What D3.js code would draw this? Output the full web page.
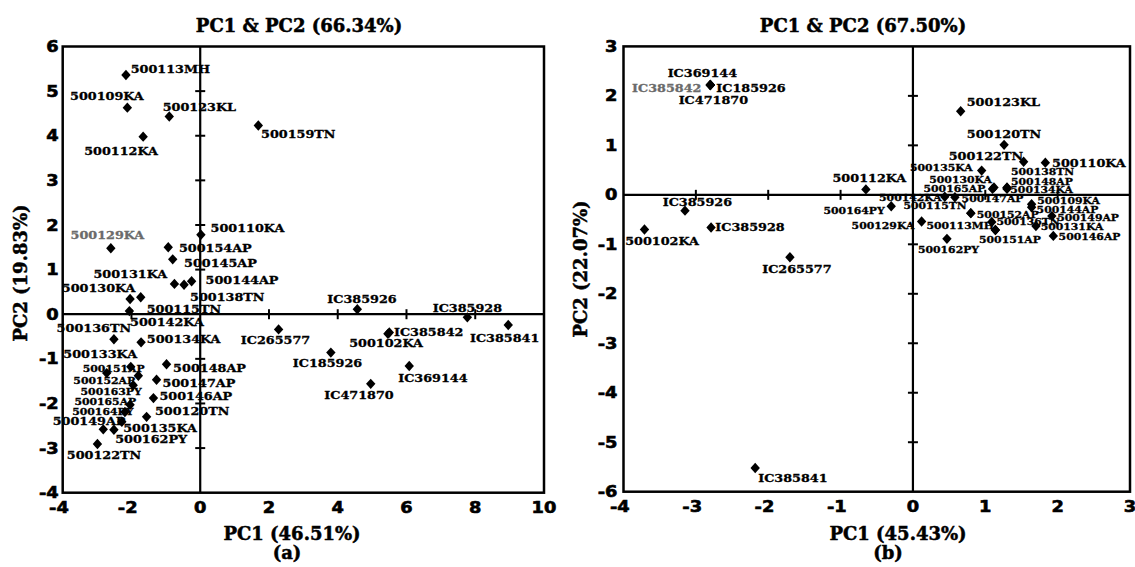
<!DOCTYPE html>
<html><head><meta charset="utf-8">
<script src="https://cdn.jsdelivr.net/npm/d3@7/dist/d3.min.js"></script>
<style>body{margin:0;background:#fff}svg{display:block}</style>
</head><body>
<svg id="c" width="1135" height="567"></svg>
<script>
// ---------- Panel (a) data ----------
const titleA = "PC1 & PC2 (66.34%)";
const xTitleA = "PC1 (46.51%)";
const yTitleA = "PC2 (19.83%)";
const xTicksA = [-4, -2, 0, 2, 4, 6, 8, 10];
const yTicksA = [6, 5, 4, 3, 2, 1, 0, -1, -2, -3, -4];
const innerXTicksA = [-2, 2, 4, 6, 8];
const innerYTicksA = [5, 4, 3, 2, 1, -1, -2, -3];
const namesA = ["500113MH","500109KA","500123KL","500112KA","500159TN","500129KA","500110KA","500154AP","500145AP","500131KA",
  "500138TN","500144AP","500130KA","500115TN","500142KA","500136TN","500134KA","500133KA","500151AP","500148AP",
  "500152AP","500147AP","500163PY","500146AP","500165AP","500120TN","500164PY","500149AP","500135KA","500162PY",
  "500122TN","IC385926","IC385928","IC385841","IC385842","500102KA","IC265577","IC185926","IC369144","IC471870"];
const pc1A = [-2.16,-2.12,-0.90,-1.66,1.69,-2.60,0.02,-0.93,-0.80,-0.75,
  -0.47,-0.25,-2.04,-1.73,-2.06,-2.51,-1.72,-2.72,-2.02,-0.98,
  -1.80,-1.27,-1.95,-1.36,-2.04,-1.56,-2.19,-2.82,-2.51,-2.28,
  -2.99,4.57,7.77,8.96,5.50,5.46,2.28,3.80,6.08,4.96];
const pc2A = [5.36,4.63,4.43,3.98,4.23,1.48,1.78,1.50,1.23,0.68,
  0.66,0.74,0.34,0.38,0.07,-0.56,-0.63,-1.32,-1.18,-1.12,
  -1.38,-1.47,-1.59,-1.88,-2.03,-2.30,-2.19,-2.58,-2.59,-2.41,
  -2.91,0.11,-0.07,-0.24,-0.41,-0.44,-0.34,-0.86,-1.16,-1.56];

// ---------- Panel (b) data ----------
const titleB = "PC1 & PC2 (67.50%)";
const xTitleB = "PC1 (45.43%)";
const yTitleB = "PC2 (22.07%)";
const xTicksB = [-4, -3, -2, -1, 0, 1, 2, 3];
const yTicksB = [3, 2, 1, 0, -1, -2, -3, -4, -5, -6];
const innerXTicksB = [-3, -2, -1, 1, 2];
const innerYTicksB = [2, 1, -1, -2, -3, -4, -5];
const namesB = ["IC369144","IC385842","IC185926","IC471870","IC385926","500102KA","IC385928","IC265577","500112KA","IC385841",
  "500164PY","500129KA","500162PY","500123KL","500120TN","500122TN","500110KA","500135KA","500130KA","500165AP",
  "500138TN","500148AP","500134KA","500142KA","500147AP","500115TN","500152AP","500113MH","500151AP","500136TN",
  "500109KA","500144AP","500149AP","500131KA","500146AP"];
const pc1B = [-2.80,-2.80,-2.80,-2.80,-3.15,-3.71,-2.79,-1.70,-0.65,-2.18,
  -0.30,0.12,0.47,0.66,1.26,1.53,1.83,0.95,1.12,1.10,
  1.30,1.30,1.30,0.44,0.58,0.80,0.80,1.14,1.14,1.09,
  1.64,1.64,1.92,1.70,1.94];
const pc2B = [2.22,2.22,2.22,2.22,-0.32,-0.70,-0.66,-1.26,0.11,-5.52,
  -0.23,-0.54,-0.89,1.69,1.01,0.67,0.65,0.49,0.15,0.12,
  0.15,0.14,0.12,-0.04,-0.05,-0.37,-0.37,-0.71,-0.71,-0.55,
  -0.19,-0.25,-0.43,-0.63,-0.83];

// ---------- Layout (label placement, not data) ----------
const labelOffA = [[4.7,-2],[-57.3,-7.7],[-6.6,-5.7],[-59,18.3],[2.7,12.7],[-40.3,-9.3],[9.7,-2.3],[10.7,4.4],[11.3,7.4],[-81,-6],
  [6,16.7],[14,3],[-68.3,-7.3],[6,15.4],[0.7,15],[-57.3,-7.3],[5.7,1],[-43.4,-15],[-48,5],[6.6,7.7],
  [-65,8],[6,6.7],[-52.6,10],[6,1.7],[-55.7,0],[8.3,-1.7],[-52.7,3],[-50.6,-4.3],[9.3,2.7],[-6.7,21.6],
  [-30.6,15.3],[-30,-6.6],[-34.6,-5.6],[-38.3,16.7],[4.7,3.3],[-38.7,13.3],[-37.8,14.5],[-38,14.6],[-11,15.7],[-46.4,15.3]];
const smallA = new Set(["500151AP","500152AP","500163PY","500165AP","500164PY"]);
const grayA = new Set(["500129KA"]);
const labelOffB = [[-42.7,-7.7],[-78.3,6.7],[6,6.7],[-31.7,19],[-22.3,-4.7],[-19.3,15.7],[4.3,3.4],[-27.7,16],[-33.4,-7.6],[3,13.7],
  [-67.7,7.3],[-70,7.6],[-29,14.3],[6,-5],[-37.3,-6.7],[-75,-1.7],[6.7,4],[-71.7,0],[-64.7,-4],[-69,2.7],
  [4,-12.3],[4,-3.3],[3.3,4.4],[-65.7,4],[6.7,4.7],[-67.4,-4.3],[6,5],[-69,-0.7],[-16.4,13.3],[4.7,3],
  [5.6,0],[5,5.6],[5.3,4.7],[4.7,4],[5.3,4]];
const normalB = new Set(["IC369144","IC385842","IC185926","IC471870","IC385926","500102KA","IC385928","IC265577","500112KA","IC385841",
  "500123KL","500120TN","500122TN","500110KA"]);
const grayB = new Set(["IC385842"]);

const SERIF = "'DejaVu Serif', serif";
const SANS = "'DejaVu Sans', sans-serif";
const svg = d3.select('#c');

function stext(g, x, y, s, o) {
  let tr = `translate(${x},${y})`;
  if (o.rot) tr += ` rotate(${o.rot})`;
  if (o.sx && o.sx !== 1) tr += ` scale(${o.sx},1)`;
  const fill = o.fill || '#000';
  const t = g.append('text')
    .attr('transform', tr)
    .attr('text-anchor', o.anchor || 'start')
    .attr('font-family', o.family)
    .attr('font-weight', 'bold')
    .attr('font-size', o.size)
    .attr('fill', fill)
    .attr('stroke', fill)
    .attr('stroke-width', o.sw || 0.35)
    .text(s);
  if (o.dy) t.attr('dy', o.dy);
  return t;
}

function panel(cfg) {
  const x = d3.scaleLinear().domain(cfg.xDomain).range(cfg.xRange);
  const y = d3.scaleLinear().domain(cfg.yDomain).range(cfg.yRange);
  const g = svg.append('g');
  const x0 = x(cfg.xDomain[0]), x1 = x(cfg.xDomain[1]);
  const yb = y(cfg.yDomain[0]), yt = y(cfg.yDomain[1]);

  // inner axes
  g.append('line').attr('x1', x(0)).attr('x2', x(0)).attr('y1', yt).attr('y2', yb)
    .attr('stroke', '#000').attr('stroke-width', 2.2);
  g.append('line').attr('x1', x0).attr('x2', x1).attr('y1', y(0)).attr('y2', y(0))
    .attr('stroke', '#000').attr('stroke-width', 2.2);
  g.selectAll('.tx').data(cfg.innerX).join('line')
    .attr('x1', d => x(d)).attr('x2', d => x(d)).attr('y1', y(0) - 5).attr('y2', y(0) + 5)
    .attr('stroke', '#000').attr('stroke-width', 2);
  g.selectAll('.ty').data(cfg.innerY).join('line')
    .attr('y1', d => y(d)).attr('y2', d => y(d)).attr('x1', x(0) - 5).attr('x2', x(0) + 5)
    .attr('stroke', '#000').attr('stroke-width', 2);

  // frame
  g.append('rect').attr('x', x0).attr('y', yt).attr('width', x1 - x0).attr('height', yb - yt)
    .attr('fill', 'none').attr('stroke', '#000').attr('stroke-width', 2.5);

  // markers
  const pts = cfg.names.map((n, i) => ({ n, a: cfg.pc1[i], b: cfg.pc2[i], off: cfg.off[i] }));
  g.selectAll('path.m').data(pts).join('path')
    .attr('class', 'm')
    .attr('d', 'M0,-5.2L4.7,0L0,5.2L-4.7,0Z')
    .attr('transform', d => `translate(${x(d.a)},${y(d.b)})`)
    .attr('fill', '#000');

  // labels
  pts.forEach(d => {
    const small = cfg.isSmall(d.n);
    stext(g, x(d.a) + d.off[0], y(d.b) + d.off[1], d.n, {
      family: SERIF, size: small ? 9.7 : 11.4, sx: 1.12, sw: 0.3,
      fill: cfg.gray.has(d.n) ? '#6b6b6b' : '#000'
    });
  });

  // tick labels
  const fs = 15.5, sxT = 1.15;
  const adv = fs * 0.696 * sxT;
  cfg.xTicks.forEach(t => {
    const digits = String(Math.abs(t)).length;
    stext(g, x(t) + digits * adv / 2, yb + 20, String(t),
      { family: SANS, size: fs, sx: sxT, anchor: 'end', sw: 0.6 });
  });
  cfg.yTicks.forEach(t => {
    stext(g, x0 - cfg.yTickGap, y(t), String(t), { family: SANS, size: fs, sx: sxT, anchor: 'end', dy: '0.36em', sw: 0.6 });
  });

  // titles
  stext(g, cfg.titleX, 31.5, cfg.title, { family: SERIF, size: 18, anchor: 'middle', sw: 0.5 });
  stext(g, cfg.xTitleX, 540, cfg.xTitle, { family: SERIF, size: 18, anchor: 'middle', sw: 0.5 });
  stext(g, cfg.tagX, 559, cfg.tag, { family: SERIF, size: 18, anchor: 'middle', sw: 0.5 });
  stext(g, cfg.yTitleX, cfg.yTitleY, cfg.yTitle, { family: SERIF, size: 18, anchor: 'middle', rot: -90, sw: 0.5 });
}

panel({
  xDomain: [-4, 10], xRange: [62.7, 544],
  yDomain: [-4, 6], yRange: [492.7, 46.5],
  innerX: innerXTicksA, innerY: innerYTicksA,
  names: namesA, pc1: pc1A, pc2: pc2A, off: labelOffA,
  isSmall: n => smallA.has(n), gray: grayA,
  xTicks: xTicksA, yTicks: yTicksA, yTickGap: 4,
  title: titleA, titleX: 299, xTitle: xTitleA, xTitleX: 292, tag: "(a)", tagX: 287,
  yTitle: yTitleA, yTitleX: 27, yTitleY: 273
});

panel({
  xDomain: [-4, 3], xRange: [623.5, 1130],
  yDomain: [-6, 3], yRange: [491.7, 46.4],
  innerX: innerXTicksB, innerY: innerYTicksB,
  names: namesB, pc1: pc1B, pc2: pc2B, off: labelOffB,
  isSmall: n => !normalB.has(n), gray: grayB,
  xTicks: xTicksB, yTicks: yTicksB, yTickGap: 6,
  title: titleB, titleX: 863, xTitle: xTitleB, xTitleX: 898, tag: "(b)", tagX: 888,
  yTitle: yTitleB, yTitleX: 587, yTitleY: 269
});
</script>
</body></html>
